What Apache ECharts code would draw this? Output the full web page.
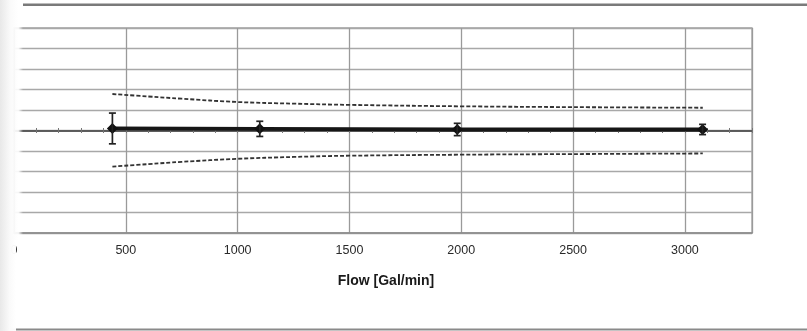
<!DOCTYPE html>
<html>
<head>
<meta charset="utf-8">
<script src="https://cdn.jsdelivr.net/npm/echarts@6/dist/echarts.min.js"></script>
<style>
html,body{margin:0;padding:0;background:#fff;}
#chart{width:807px;height:331px;}
</style>
</head>
<body>
<div id="chart"></div>
<script>
const xTicks = [0, 500, 1000, 1500, 2000, 2500, 3000];
const flow = [440, 1099, 1982, 3079];
const deviation = [0.1, 0.08, 0.05, 0.05];
const errHalf = [0.75, 0.37, 0.3, 0.25];
const limitFlow = [440, 600, 750, 1000, 1250, 1500, 2000, 2500, 3080];
const upperLimit = [1.78, 1.66, 1.55, 1.39, 1.31, 1.25, 1.18, 1.14, 1.11];
const lowerLimit = [-1.76, -1.64, -1.53, -1.38, -1.29, -1.23, -1.18, -1.15, -1.12];
const xTitle = 'Flow [Gal/min]';

const chart = echarts.init(document.getElementById('chart'), null, {renderer: 'canvas'});
const font = '"Liberation Sans", Arial, sans-serif';

const pts = flow.map((f, i) => [f, deviation[i]]);
const errs = flow.map((f, i) => [f, deviation[i] - errHalf[i], deviation[i] + errHalf[i]]);

const zeroAxis = (inside, yIdx) => ({
  type: 'value', min: 0, max: 3300, interval: 100, position: 'bottom',
  axisLine: {show: true, onZero: true, onZeroAxisIndex: yIdx, lineStyle: {color: '#555', width: 1.5}},
  axisTick: {show: true, inside: inside, length: 2.5, lineStyle: {color: '#777', width: 1}},
  axisLabel: {show: false}, splitLine: {show: false}
});

chart.setOption({
  animation: false,
  backgroundColor: '#fff',
  grid: {left: 14, right: 55, top: 28, bottom: 98, show: true, borderColor: '#a0a0a0', borderWidth: 1.3, containLabel: false},
  xAxis: [
    {
      type: 'value', min: 0, max: 3300, interval: 500,
      axisLine: {onZero: false, lineStyle: {color: '#8a8a8a', width: 1.6}},
      axisTick: {show: false},
      splitLine: {show: true, lineStyle: {color: '#9a9a9a', width: 1.3}},
      axisLabel: {
        showMaxLabel: false, color: '#2a2a2a', fontSize: 12.5, fontFamily: font, margin: 11,
        formatter: v => xTicks.indexOf(v) >= 0 ? String(v) : ''
      },
      name: xTitle, nameLocation: 'middle', nameGap: 41,
      nameTextStyle: {color: '#1a1a1a', fontSize: 14, fontWeight: 'bold', fontFamily: font, padding: [0, 0, 0, 6]}
    },
    zeroAxis(false, 0),
    zeroAxis(true, 1)
  ],
  yAxis: [
    {
      type: 'value', min: -5, max: 5, interval: 1,
      axisLine: {show: false}, axisTick: {show: false}, axisLabel: {show: false},
      splitLine: {show: true, lineStyle: {color: '#a8a8a8', width: 1.3}}
    },
    {
      type: 'value', min: -5, max: 5, interval: 1, position: 'left',
      axisLine: {show: false}, axisTick: {show: false}, axisLabel: {show: false},
      splitLine: {show: false}
    }
  ],
  series: [
    {
      type: 'line', data: limitFlow.map((f, i) => [f, upperLimit[i]]), smooth: 0.4,
      showSymbol: false, lineStyle: {color: '#333', width: 1.8, type: [4, 2]}, z: 3
    },
    {
      type: 'line', data: limitFlow.map((f, i) => [f, lowerLimit[i]]), smooth: 0.4,
      showSymbol: false, lineStyle: {color: '#333', width: 1.8, type: [4, 2]}, z: 3
    },
    {
      type: 'line', data: pts, symbol: 'diamond', symbolSize: 11,
      itemStyle: {color: '#111'}, lineStyle: {color: '#161616', width: 3.8}, z: 5
    },
    {
      type: 'custom', data: errs, z: 6,
      renderItem: function (params, api) {
        const x = api.value(0);
        const lo = api.coord([x, api.value(1)]);
        const hi = api.coord([x, api.value(2)]);
        const st = {stroke: '#222', lineWidth: 1.7};
        const cw = 3.5;
        return {type: 'group', children: [
          {type: 'line', shape: {x1: lo[0], y1: lo[1], x2: hi[0], y2: hi[1]}, style: st},
          {type: 'line', shape: {x1: lo[0] - cw, y1: lo[1], x2: lo[0] + cw, y2: lo[1]}, style: st},
          {type: 'line', shape: {x1: hi[0] - cw, y1: hi[1], x2: hi[0] + cw, y2: hi[1]}, style: st}
        ]};
      }
    }
  ],
  graphic: [
    {type: 'rect', z: 100, shape: {x: 23, y: 3.5, width: 784, height: 2.5}, style: {fill: '#7a7a7a'}},
    {type: 'rect', z: 100, shape: {x: 8, y: 328.5, width: 799, height: 2}, style: {fill: '#8a8a8a'}},
    {type: 'rect', z: 100, shape: {x: 0, y: 0, width: 23, height: 240},
      style: {fill: new echarts.graphic.LinearGradient(0, 0, 1, 0, [
        {offset: 0, color: 'rgba(232,232,232,1)'},
        {offset: 0.45, color: 'rgba(250,250,250,1)'},
        {offset: 0.8, color: 'rgba(255,255,255,0.9)'},
        {offset: 1, color: 'rgba(255,255,255,0)'}])}},
    {type: 'rect', z: 100, shape: {x: 0, y: 240, width: 16, height: 91},
      style: {fill: new echarts.graphic.LinearGradient(0, 0, 1, 0, [
        {offset: 0, color: 'rgba(232,232,232,1)'},
        {offset: 0.6, color: 'rgba(250,250,250,1)'},
        {offset: 1, color: 'rgba(255,255,255,0.95)'}])}}
  ]
});
</script>
</body>
</html>
